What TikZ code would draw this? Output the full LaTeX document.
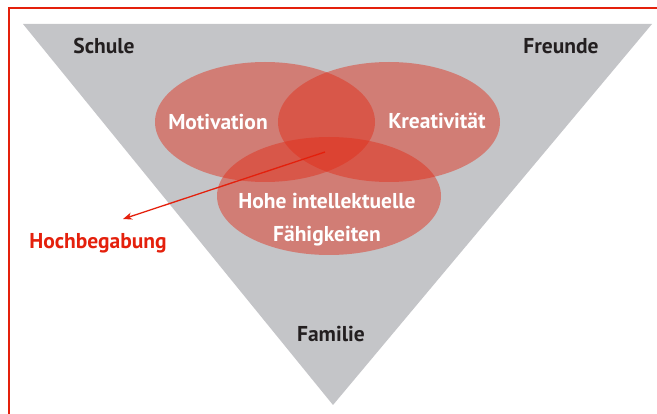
\documentclass[tikz,border=0pt]{standalone}
\usepackage{fontspec}
\setmainfont{PT Sans}
\usetikzlibrary{arrows.meta}
\definecolor{framered}{RGB}{228,32,12}
\definecolor{trigray}{RGB}{196,197,200}
\definecolor{ellred}{RGB}{225,45,25}
\definecolor{labeldark}{RGB}{35,31,32}
\tikzset{
  lbl/.style={font=\bfseries\fontsize{21.5}{24}\selectfont, text=labeldark, inner sep=0pt},
  wlbl/.style={font=\bfseries\fontsize{21.5}{33}\selectfont, text=white, inner sep=0pt, align=center},
  ell/.style={fill=ellred, fill opacity=0.47, draw=none},
}
\begin{document}
\begin{tikzpicture}[x=1pt,y=-1pt]
\useasboundingbox (0,0) rectangle (657,414);
% frame
\draw[framered, line width=2.2pt] (9,414) -- (9,8) -- (657,8);
% triangle
\fill[trigray] (23,24) -- (652,24) -- (333,405) -- cycle;
% ellipses
\fill[ell] (265,122) ellipse [x radius=110, y radius=60];
\fill[ell] (389,122) ellipse [x radius=111, y radius=60];
\fill[ell] (329,196) ellipse [x radius=112, y radius=59];
% labels
\node[lbl] (schule) at (104,46) {Schule};
\node[lbl] (freunde) at (561,46) {Freunde};
\node[lbl] (familie) at (331,334) {Familie};
\node[wlbl] (motiv) at (218,122) {Motivation};
\node[wlbl] (kreat) at (437,121) {Kreativität};
\node[wlbl] (hohe) at (327,220) {Hohe intellektuelle\\Fähigkeiten};
\node[lbl, text=framered] (hoch) at (98,243) {Hochbegabung};
\coordinate (core) at (325,152);
\coordinate (tip) at (123,219);
\draw[framered, line width=1.3pt, -{Stealth[length=9pt,width=7pt,inset=2.5pt]}] (core) -- (tip);
\end{tikzpicture}
\end{document}
